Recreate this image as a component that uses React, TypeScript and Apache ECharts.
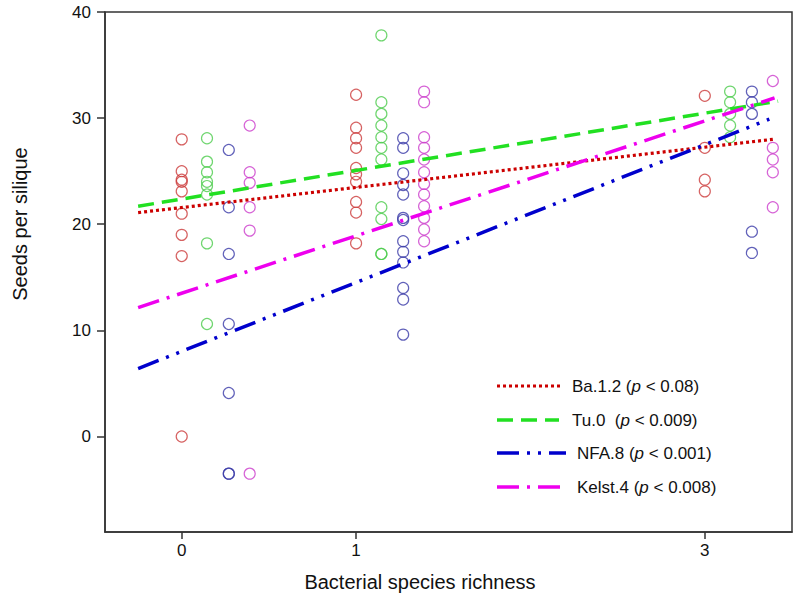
import React, { useEffect, useRef } from "react";
import * as echarts from "echarts";

// ---- data ----
const richnessLevels = [0, 1, 3];
const xTickLabels = ["0", "1", "3"];
const yTickValues = [0, 10, 20, 30, 40];

const genotypes = ["Ba.1.2", "Tu.0", "NFA.8", "Kelst.4"];
const pLabels = ["< 0.08", "< 0.009", "< 0.001", "< 0.008"];
// horizontal dodge of each genotype within a richness level
const dodge = [0, 0.145, 0.27, 0.39];

// seeds per silique, one list per richness level (0, 1, 3)
const ba12 = [
  [28, 25, 24.2, 24, 23.1, 21, 19, 17, 0],
  [32.2, 29.1, 28.1, 27.2, 25.3, 24.7, 24, 22.1, 21.1, 18.2],
  [32.1, 27.2, 24.2, 23.1],
];
const tu0 = [
  [28.1, 25.9, 24.9, 24, 23.6, 22.8, 18.2, 10.6],
  [37.8, 31.5, 30.4, 29.3, 28.2, 27.2, 26.1, 21.6, 20.5, 17.2, 17.2],
  [32.5, 31.5, 30.4, 29.3, 28.2],
];
const nfa8 = [
  [27, 21.6, 17.2, 10.6, 4.1, -3.5, -3.5],
  [28.1, 27.2, 24.8, 23.7, 22.8, 20.6, 20.4, 18.4, 17.4, 16.4, 14.0, 12.9, 9.6],
  [32.5, 31.5, 30.4, 19.3, 17.3],
];
const kelst4 = [
  [29.3, 24.9, 23.9, 21.6, 19.4, -3.5],
  [32.5, 31.5, 28.2, 27.2, 26.1, 24.9, 23.8, 22.8, 21.7, 20.6, 19.5, 18.4],
  [33.5, 27.2, 26.1, 24.9, 21.6],
];

// fitted regression lines: [x, y] at start and end
const ba12Fit = [[-0.25, 21.1], [3.39, 28.0]];
const tu0Fit = [[-0.25, 21.7], [3.42, 31.6]];
const nfa8Fit = [[-0.25, 6.4], [3.37, 29.9]];
const kelst4Fit = [[-0.25, 12.15], [3.4, 31.9]];

const groups = [ba12, tu0, nfa8, kelst4];
const fits = [ba12Fit, tu0Fit, nfa8Fit, kelst4Fit];

const markerColors = ["#cc3b3b", "#4ccc4c", "#3a3aa8", "#cc3ccc"];
const lineColors = ["#cc0000", "#22e022", "#0000cc", "#ee00ee"];
const lineDashes = [
  [3, 3],
  [16, 8],
  [22, 8, 3, 8, 3, 8],
  [22, 8, 3, 8],
];
const lineWidths = [3.2, 3.5, 3.5, 3.5];

const FONT = "'Liberation Sans', Arial, Helvetica, sans-serif";

export default function App() {
  const ref = useRef<HTMLDivElement>(null);

  useEffect(() => {
    if (!ref.current) return;
    const chart = echarts.init(ref.current, undefined, { renderer: "svg" });

    const scatterSeries = groups.map((g, gi) => ({
      type: "scatter",
      name: genotypes[gi],
      symbol: "circle",
      symbolSize: 11,
      itemStyle: {
        color: "rgba(0,0,0,0)",
        borderColor: markerColors[gi],
        borderWidth: 1.2,
      },
      z: 2,
      data: g.flatMap((vals, li) =>
        vals.map((v) => [richnessLevels[li] + dodge[gi], v])
      ),
    }));

    const lineSeries = fits.map((f, gi) => ({
      type: "line",
      name: genotypes[gi] + " fit",
      showSymbol: false,
      symbol: "none",
      lineStyle: {
        color: lineColors[gi],
        width: lineWidths[gi],
        type: lineDashes[gi],
        cap: "butt",
      },
      z: 3,
      data: f,
    }));

    // legend (drawn as graphic)
    const legendRows = [386, 420, 453, 487];
    const legendLineEnd = [563, 559, 566, 566];
    const legendTextX = [572, 572, 577, 577];
    const legendGraphics: any[] = [];
    genotypes.forEach((name, i) => {
      legendGraphics.push({
        type: "line",
        shape: { x1: 497, y1: legendRows[i], x2: legendLineEnd[i], y2: legendRows[i] },
        style: {
          stroke: lineColors[i],
          lineWidth: lineWidths[i],
          lineDash: lineDashes[i],
        },
        z: 10,
      });
      const gap = name === "Tu.0" ? "  (" : " (";
      legendGraphics.push({
        type: "text",
        x: legendTextX[i],
        y: legendRows[i],
        style: {
          text: `{a|${name}${gap}}{i|p}{a| ${pLabels[i]})}`,
          verticalAlign: "middle",
          align: "left",
          rich: {
            a: { fontSize: 17, fontFamily: FONT, fill: "#111" },
            i: { fontSize: 17, fontFamily: FONT, fontStyle: "italic", fill: "#111" },
          },
        },
        z: 10,
      });
    });

    chart.setOption({
      animation: false,
      backgroundColor: "#ffffff",
      grid: {
        left: 105,
        right: 8,
        top: 12,
        bottom: 75,
        show: true,
        borderColor: "#333",
        borderWidth: 1.5,
        containLabel: false,
      },
      xAxis: {
        type: "value",
        min: -0.44,
        max: 3.5,
        splitLine: { show: false },
        axisLine: { show: true, onZero: false, lineStyle: { color: "#333", width: 1.5 } },
        axisTick: {
          show: true,
          length: 7,
          customValues: richnessLevels,
          lineStyle: { color: "#333", width: 1.5 },
        },
        axisLabel: {
          customValues: richnessLevels,
          formatter: (v: number) => xTickLabels[richnessLevels.indexOf(v)] ?? "",
          fontSize: 17,
          fontFamily: FONT,
          color: "#111",
          margin: 10,
        },
      },
      yAxis: {
        type: "value",
        min: -9,
        max: 40,
        splitLine: { show: false },
        axisLine: { show: true, onZero: false, lineStyle: { color: "#333", width: 1.5 } },
        axisTick: {
          show: true,
          inside: false,
          length: 8,
          customValues: yTickValues,
          lineStyle: { color: "#333", width: 1.5 },
        },
        axisLabel: {
          customValues: yTickValues,
          fontSize: 17,
          fontFamily: FONT,
          color: "#111",
          margin: 14,
        },
      },
      graphic: [
        {
          type: "text",
          x: 20,
          y: 224,
          rotation: Math.PI / 2,
          style: {
            text: "Seeds per silique",
            fontSize: 20,
            fontFamily: FONT,
            fill: "#111",
            align: "center",
            verticalAlign: "middle",
          },
        },
        {
          type: "text",
          x: 420,
          y: 582,
          style: {
            text: "Bacterial species richness",
            fontSize: 20,
            fontFamily: FONT,
            fill: "#111",
            align: "center",
            verticalAlign: "middle",
          },
        },
        ...legendGraphics,
      ],
      series: [...scatterSeries, ...lineSeries],
    });

    return () => chart.dispose();
  }, []);

  return (
    <div
      ref={ref}
      style={{ position: "absolute", left: 0, top: 0, width: 800, height: 607 }}
    />
  );
}
